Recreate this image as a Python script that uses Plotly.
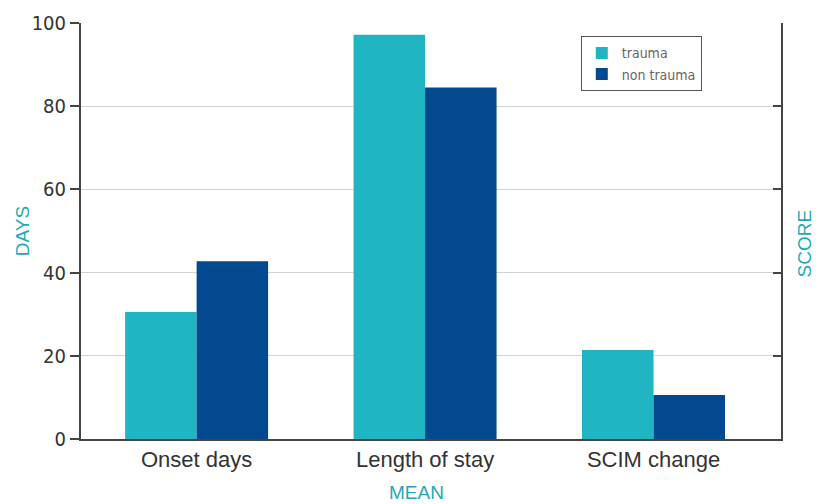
import plotly.graph_objects as go

categories = ["Onset days", "Length of stay", "SCIM change"]
trauma = [30.5, 97.2, 21.4]
non_trauma = [42.7, 84.5, 10.6]
y_ticks = [0, 20, 40, 60, 80, 100]

TEAL = "#20b5c3"
NAVY = "#03498f"
AXIS = "#444444"
GRID = "#d3d3d3"
LABEL = "#1fa9b8"

font_main = "Liberation Sans, Arial, Helvetica, sans-serif"
font_narrow = "Liberation Sans Narrow, DejaVu Sans Condensed, Liberation Sans, sans-serif"

fig = go.Figure()
fig.add_trace(go.Bar(name="trauma", x=categories, y=trauma, marker=dict(color=TEAL, line=dict(width=0))))
fig.add_trace(go.Bar(name="non trauma", x=categories, y=non_trauma, marker=dict(color=NAVY, line=dict(width=0))))
# empty helper trace so the right-hand SCORE axis is drawn
fig.add_trace(go.Scatter(x=categories, y=[None] * len(categories), yaxis="y2",
                         showlegend=False, hoverinfo="skip", mode="markers"))

fig.update_layout(
    width=822, height=504,
    margin=dict(l=81, r=41, t=23, b=65),
    paper_bgcolor="white", plot_bgcolor="white",
    barmode="group", bargap=0.374, bargroupgap=0,
    font=dict(family=font_main, color="#333333", size=18),
    showlegend=True,
    legend=dict(
        x=0.714, y=0.968, xanchor="left", yanchor="top",
        bordercolor="#555555", borderwidth=1, bgcolor="white",
        font=dict(family=font_narrow, size=14, color="#666666"),
        tracegroupgap=0,
    ),
    xaxis=dict(
        range=[-0.506, 2.558], showline=True, linecolor=AXIS, linewidth=2, ticks="",
        showgrid=False, tickfont=dict(size=22, color="#333333", family=font_main),
    ),
    yaxis=dict(
        range=[0, 100], tickvals=y_ticks, showline=True, linecolor=AXIS, linewidth=2,
        ticks="outside", ticklen=9, tickwidth=2, tickcolor=AXIS,
        showgrid=True, gridcolor=GRID, gridwidth=1, zeroline=False,
        tickfont=dict(size=20, color="#333333", family=font_narrow),
    ),
    yaxis2=dict(
        range=[0, 100], tickvals=y_ticks, overlaying="y", side="right",
        showline=True, linecolor=AXIS, linewidth=2,
        ticks="inside", ticklen=8, tickwidth=2, tickcolor=AXIS,
        showticklabels=False, showgrid=False, zeroline=False,
    ),
)

fig.add_annotation(text="DAYS", xref="paper", yref="paper", x=-0.084, y=0.5,
                   textangle=-90, showarrow=False, xanchor="center", yanchor="middle",
                   font=dict(size=19, color=LABEL, family=font_main))
fig.add_annotation(text="SCORE", xref="paper", yref="paper", x=1.0336, y=0.469,
                   textangle=-90, showarrow=False, xanchor="center", yanchor="middle",
                   font=dict(size=19, color=LABEL, family=font_main))
fig.add_annotation(text="MEAN", xref="paper", yref="paper", x=0.479, y=-0.128,
                   showarrow=False, xanchor="center", yanchor="middle",
                   font=dict(size=19, color=LABEL, family=font_main))

fig.write_html("out.html")
